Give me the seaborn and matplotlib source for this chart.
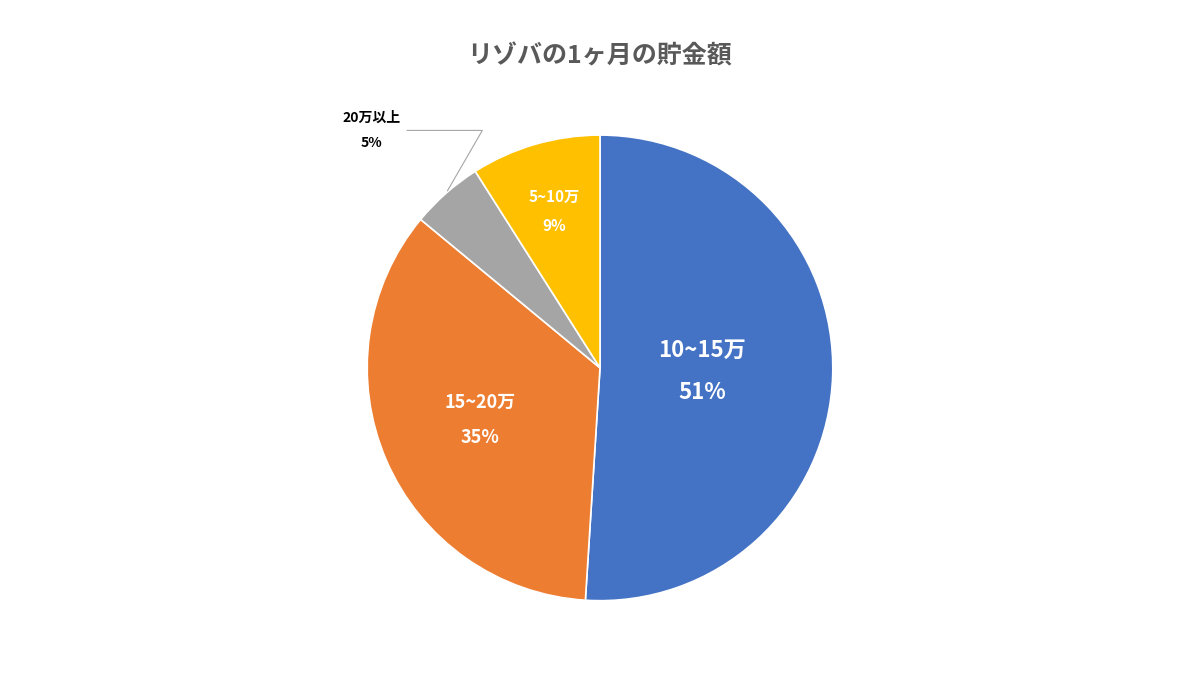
import numpy as np
import matplotlib.pyplot as plt
import seaborn as sns

sns.set_theme(style="white")
plt.rcParams['font.family'] = 'Noto Sans CJK JP'

categories = ['10~15万', '15~20万', '20万以上', '5~10万']
shares = [51, 35, 5, 9]
colors = ['#4472C4', '#ED7D31', '#A5A5A5', '#FFC000']

fig = plt.figure(figsize=(12, 6.75), dpi=100)
ax = fig.add_axes([0.5 - 0.194, 0.455 - 0.345, 0.388, 0.69])
wedges, _ = ax.pie(shares, colors=colors, startangle=90, counterclock=False,
                   wedgeprops=dict(edgecolor='white', linewidth=1.2))
ax.set_xlim(-1, 1)
ax.set_ylim(-1, 1)
ax.set_aspect('equal')

# label radius and font size per slice
label_r = [0.44, 0.56, None, 0.70]
label_size = [16, 13, 10, 11]
for w, cat, val, r, fs in zip(wedges, categories, shares, label_r, label_size):
    mid = np.deg2rad((w.theta1 + w.theta2) / 2)
    if r is None:
        # outside label with leader line
        x0, y0 = np.cos(mid), np.sin(mid)
        ax.annotate(f'{cat}\n\n{val}%', xy=(x0 * 1.0, y0 * 1.0), xytext=(-0.98, 1.02),
                    ha='center', va='center', fontsize=fs, fontweight='bold', color='black',
                    linespacing=0.9,
                    arrowprops=dict(arrowstyle='-', color='#A5A5A5', lw=0.8,
                                    connectionstyle='angle,angleA=0,angleB=60'),
                    annotation_clip=False)
    else:
        ax.text(r * np.cos(mid), r * np.sin(mid), f'{cat}\n\n{val}%', ha='center', va='center',
                fontsize=fs, fontweight='bold', color='white', linespacing=0.9)

fig.suptitle('リゾバの1ヶ月の貯金額', y=0.935, fontsize=18, fontweight='bold', color='#595959')
fig.savefig('out.png', dpi=100)
